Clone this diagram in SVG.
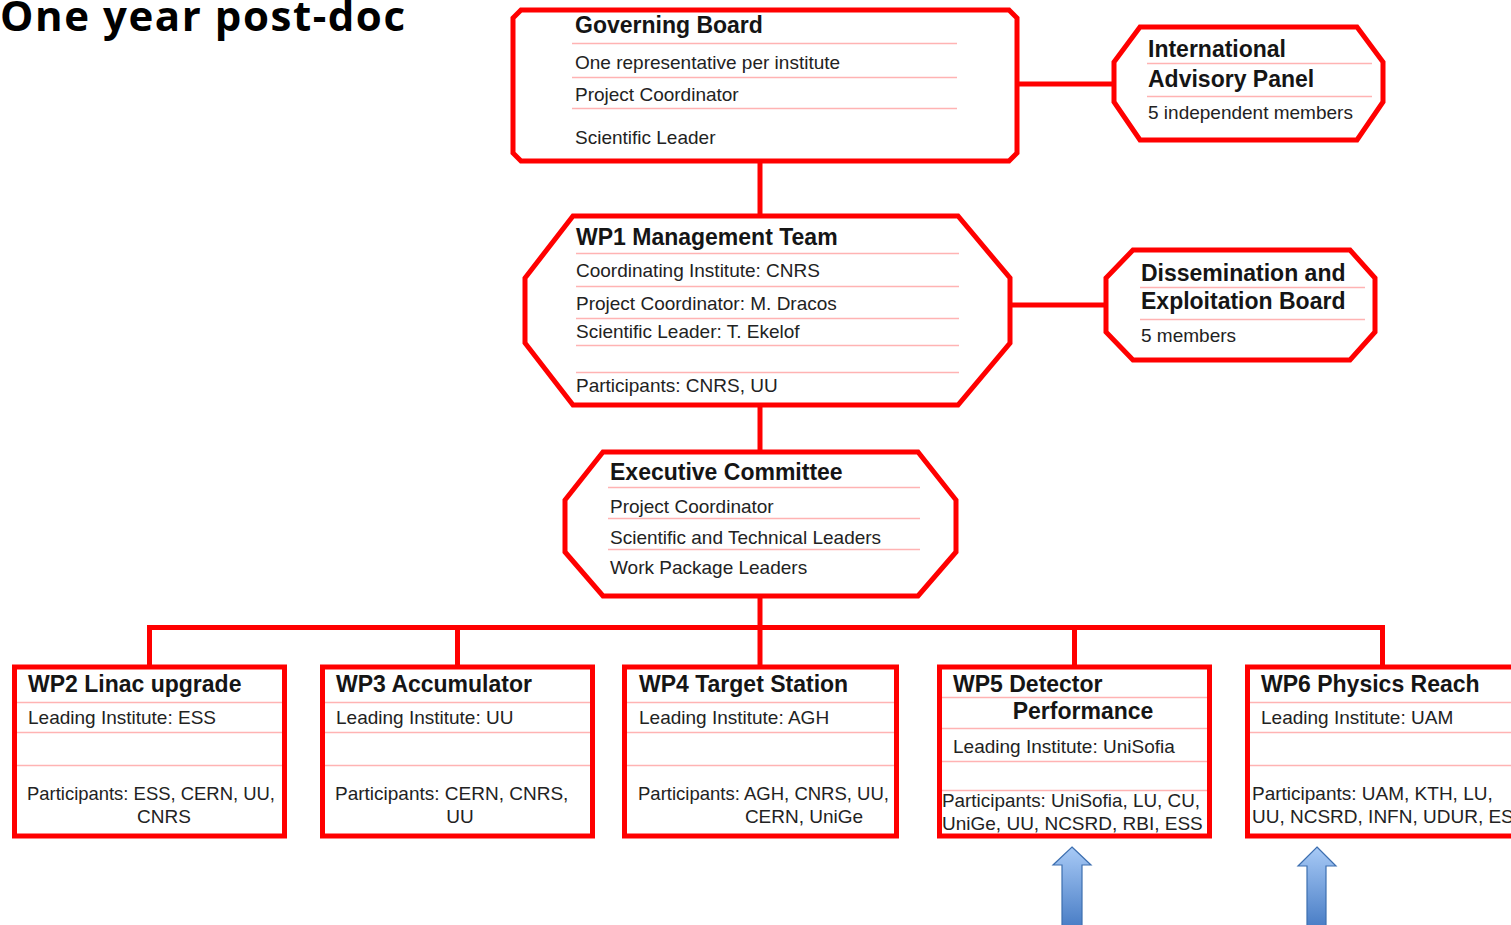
<svg xmlns="http://www.w3.org/2000/svg" width="1511" height="925" viewBox="0 0 1511 925">
<style>
.box{fill:#fff;stroke:#ff0000;stroke-width:5;stroke-linejoin:miter}
.con{fill:none;stroke:#ff0000;stroke-width:5}
.sep{stroke:#ffb3b3;stroke-width:1.5}
.t{font-family:"Liberation Sans",Arial,sans-serif;font-weight:bold;font-size:23px;fill:#151515}
.b{font-family:"Liberation Sans",Arial,sans-serif;font-size:19px;fill:#222}
.mid{text-anchor:middle}
.arrow{fill:url(#blue);stroke:#3d6fb0;stroke-width:1.2}
</style>
<defs>
<linearGradient id="blue" x1="0" y1="0" x2="0" y2="1">
<stop offset="0" stop-color="#a8caf6"/>
<stop offset="1" stop-color="#4a7ec6"/>
</linearGradient>
</defs>
<rect width="1511" height="925" fill="#fff"/>
<text x="0" y="31" font-family="'Open Sans',sans-serif" font-weight="bold" font-size="42" fill="#000" textLength="405">One year post-doc</text>

<g id="connectors">
<line class="con" x1="1017" y1="84" x2="1114" y2="84"/>
<line class="con" x1="760" y1="161" x2="760" y2="216"/>
<line class="con" x1="1010" y1="305" x2="1106" y2="305"/>
<line class="con" x1="760" y1="405" x2="760" y2="452"/>
<line class="con" x1="760" y1="596" x2="760" y2="667"/>
<polyline class="con" points="149.5,667 149.5,627.5 1382.5,627.5 1382.5,667"/>
<line class="con" x1="457.5" y1="627" x2="457.5" y2="667"/>
<line class="con" x1="1074.5" y1="627" x2="1074.5" y2="667"/>
</g>

<g id="governing-board">
<polygon class="box" points="521,10 1009,10 1017,18 1017,153 1009,161 521,161 513,153 513,18"/>
<text class="t" x="575" y="33">Governing Board</text>
<line class="sep" x1="572" y1="43.5" x2="957" y2="43.5"/>
<text class="b" x="575" y="69">One representative per institute</text>
<line class="sep" x1="572" y1="77.5" x2="957" y2="77.5"/>
<text class="b" x="575" y="101">Project Coordinator</text>
<line class="sep" x1="572" y1="108.5" x2="957" y2="108.5"/>
<text class="b" x="575" y="144">Scientific Leader</text>
</g>

<g id="advisory-panel">
<polygon class="box" points="1140,27 1357,27 1383,62 1383,102 1357,140 1140,140 1114,102 1114,62"/>
<text class="t" x="1148" y="57">International</text>
<line class="sep" x1="1147" y1="63.5" x2="1372" y2="63.5"/>
<text class="t" x="1148" y="87">Advisory Panel</text>
<line class="sep" x1="1147" y1="96.5" x2="1372" y2="96.5"/>
<text class="b" x="1148" y="119">5 independent members</text>
</g>

<g id="wp1">
<polygon class="box" points="573,216 958,216 1010,278 1010,343 958,405 573,405 525,343 525,278"/>
<text class="t" x="576" y="245">WP1 Management Team</text>
<line class="sep" x1="576" y1="253.5" x2="959" y2="253.5"/>
<text class="b" x="576" y="277">Coordinating Institute: CNRS</text>
<line class="sep" x1="576" y1="286.5" x2="959" y2="286.5"/>
<text class="b" x="576" y="310">Project Coordinator: M. Dracos</text>
<line class="sep" x1="576" y1="318.5" x2="959" y2="318.5"/>
<text class="b" x="576" y="338">Scientific Leader: T. Ekelof</text>
<line class="sep" x1="576" y1="345.5" x2="959" y2="345.5"/>
<line class="sep" x1="576" y1="372.5" x2="959" y2="372.5"/>
<text class="b" x="576" y="392">Participants: CNRS, UU</text>
</g>

<g id="dissemination-board">
<polygon class="box" points="1133,250 1350,250 1375,278 1375,332 1350,360 1133,360 1106,332 1106,278"/>
<text class="t" x="1141" y="281">Dissemination and</text>
<line class="sep" x1="1140" y1="287.5" x2="1365" y2="287.5"/>
<text class="t" x="1141" y="309">Exploitation Board</text>
<line class="sep" x1="1140" y1="319.5" x2="1365" y2="319.5"/>
<text class="b" x="1141" y="342">5 members</text>
</g>

<g id="executive-committee">
<polygon class="box" points="603,452 918,452 956,500 956,552 918,596 603,596 565,552 565,500"/>
<text class="t" x="610" y="480">Executive Committee</text>
<line class="sep" x1="608" y1="487.5" x2="920" y2="487.5"/>
<text class="b" x="610" y="513">Project Coordinator</text>
<line class="sep" x1="608" y1="518.5" x2="920" y2="518.5"/>
<text class="b" x="610" y="544">Scientific and Technical Leaders</text>
<line class="sep" x1="608" y1="549.5" x2="920" y2="549.5"/>
<text class="b" x="610" y="574">Work Package Leaders</text>
</g>

<g id="wp2">
<rect class="box" x="14.5" y="667" width="270" height="169"/>
<text class="t" x="28" y="692">WP2 Linac upgrade</text>
<line class="sep" x1="17" y1="702.5" x2="282" y2="702.5"/>
<text class="b" x="28" y="724">Leading Institute: ESS</text>
<line class="sep" x1="17" y1="732.5" x2="282" y2="732.5"/>
<line class="sep" x1="17" y1="765.5" x2="282" y2="765.5"/>
<text class="b" x="27" y="800" textLength="248" lengthAdjust="spacingAndGlyphs">Participants: ESS, CERN, UU,</text>
<text class="b mid" x="164" y="823">CNRS</text>
</g>

<g id="wp3">
<rect class="box" x="322.5" y="667" width="270" height="169"/>
<text class="t" x="336" y="692">WP3 Accumulator</text>
<line class="sep" x1="325" y1="702.5" x2="590" y2="702.5"/>
<text class="b" x="336" y="724">Leading Institute: UU</text>
<line class="sep" x1="325" y1="732.5" x2="590" y2="732.5"/>
<line class="sep" x1="325" y1="765.5" x2="590" y2="765.5"/>
<text class="b" x="335" y="800">Participants: CERN, CNRS,</text>
<text class="b mid" x="460" y="823">UU</text>
</g>

<g id="wp4">
<rect class="box" x="624.5" y="667" width="272" height="169"/>
<text class="t" x="639" y="692">WP4 Target Station</text>
<line class="sep" x1="627" y1="702.5" x2="894" y2="702.5"/>
<text class="b" x="639" y="724">Leading Institute: AGH</text>
<line class="sep" x1="627" y1="732.5" x2="894" y2="732.5"/>
<line class="sep" x1="627" y1="765.5" x2="894" y2="765.5"/>
<text class="b" x="638" y="800" textLength="251" lengthAdjust="spacingAndGlyphs">Participants: AGH, CNRS, UU,</text>
<text class="b mid" x="804" y="823">CERN, UniGe</text>
</g>

<g id="wp5">
<rect class="box" x="939.5" y="667" width="270" height="169"/>
<text class="t" x="953" y="692">WP5 Detector</text>
<line class="sep" x1="942" y1="697.5" x2="1207" y2="697.5"/>
<text class="t mid" x="1083" y="719">Performance</text>
<line class="sep" x1="942" y1="728.5" x2="1207" y2="728.5"/>
<text class="b" x="953" y="753">Leading Institute: UniSofia</text>
<line class="sep" x1="942" y1="761.5" x2="1207" y2="761.5"/>
<line class="sep" x1="942" y1="790.5" x2="1207" y2="790.5"/>
<text class="b" x="942" y="807" textLength="258" lengthAdjust="spacingAndGlyphs">Participants: UniSofia, LU, CU,</text>
<text class="b" x="942" y="830">UniGe, UU, NCSRD, RBI, ESS</text>
</g>

<g id="wp6">
<rect class="box" x="1247.5" y="667" width="275" height="169"/>
<text class="t" x="1261" y="692">WP6 Physics Reach</text>
<line class="sep" x1="1250" y1="702.5" x2="1511" y2="702.5"/>
<text class="b" x="1261" y="724">Leading Institute: UAM</text>
<line class="sep" x1="1250" y1="732.5" x2="1511" y2="732.5"/>
<line class="sep" x1="1250" y1="765.5" x2="1511" y2="765.5"/>
<text class="b" x="1252" y="800">Participants: UAM, KTH, LU,</text>
<text class="b" x="1252" y="823">UU, NCSRD, INFN, UDUR, ESS</text>
</g>

<g id="arrows">
<path class="arrow" d="M1072,847 L1091,865 L1082,865 L1082,926 L1062,926 L1062,865 L1053,865 Z"/>
<path class="arrow" d="M1317,847 L1336,866 L1326,866 L1326,926 L1307,926 L1307,866 L1298,866 Z"/>
</g>
</svg>
